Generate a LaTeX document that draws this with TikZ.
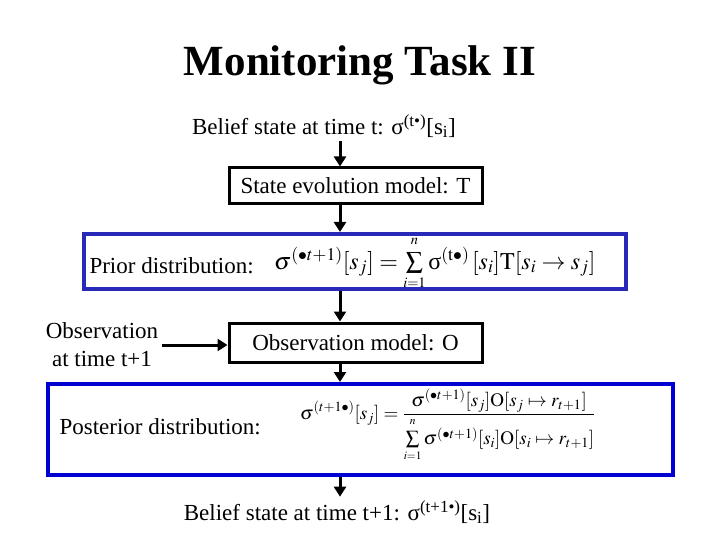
\documentclass[tikz,border=0pt]{standalone}
\usepackage{mathptmx}
\usepackage{fontspec}
\setmainfont{Liberation Serif}
\usetikzlibrary{arrows.meta}

\definecolor{priorblue}{RGB}{40,40,185}
\definecolor{postblue}{RGB}{0,0,210}

\tikzset{
  blackbox/.style={draw=black, line width=3pt, inner sep=0pt},
  bluebox/.style={draw=#1, line width=4pt, inner sep=0pt},
  flow/.style={line width=3pt, -{Triangle[length=10pt,width=12pt]}},
  body/.style={font=\fontsize{23}{28}\selectfont}
}
\newcommand{\sumin}{\sum\limits_{\scriptscriptstyle i=1\rule{0pt}{6pt}}^{\raisebox{3.5pt}{$\scriptscriptstyle n$}}}

\begin{document}
\begin{tikzpicture}[x=1pt,y=-1pt]

  \useasboundingbox (0,0) rectangle (720,540);
  \coordinate (spine) at (340,0);

  % Titol
  \node[font=\bfseries\fontsize{43}{50}\selectfont] (title) at (360,65) {Monitoring Task II};

  % Estat inicial
  \node[body] (beliefT) at (324,126) {Belief state at time t: σ\textsuperscript{(t•)}[s\textsubscript{i}]};

  % Model d'evolucio
  \node[blackbox, body, minimum width=253pt, minimum height=36pt] (evol) at (355.5,186) {State evolution model: T};

  % Distribucio a priori
  \node[bluebox=priorblue, minimum width=542pt, minimum height=55pt] (prior) at (355,261.5) {};
  \node[body, anchor=west] (priorlbl) at (86,266) {Prior distribution:};
  \node[anchor=west, inner sep=0pt, font=\fontsize{24}{28}\selectfont] (priorf) at (274,263)
    {$\sigma^{(\bullet t+1)}[s_j] = \sumin \mbox{σ}^{(\mathrm{t}\bullet)}\,[s_i]\mathrm{T}[s_i \rightarrow s_j]$};

  % Observacio
  \node[body, align=center] (obs) at (102,345) {Observation\\at time t+1};
  \node[blackbox, body, minimum width=253pt, minimum height=39pt] (obsmodel) at (355.5,342.5) {Observation model: O};

  % Distribucio a posteriori
  \node[bluebox=postblue, minimum width=625pt, minimum height=91pt] (post) at (360.5,429.5) {};
  \node[body, anchor=west] (postlbl) at (56,427) {Posterior distribution:};
  \node[anchor=west, inner sep=0pt, font=\fontsize{19}{23}\selectfont] (postf) at (300,425)
    {$\displaystyle\sigma^{(t+1\bullet)}[s_j] = \frac{\sigma^{(\bullet t+1)}[s_j]\mathrm{O}[s_j \mapsto r_{t+1}]}{\sumin \sigma^{(\bullet t+1)}[s_i]\mathrm{O}[s_i \mapsto r_{t+1}]}$};

  % Estat final
  \node[body] (beliefT1) at (337,512) {Belief state at time t+1: σ\textsuperscript{(t+1•)}[s\textsubscript{i}]};

  % Fletxes
  \draw[flow] (beliefT.south -| spine) -- (evol.north -| spine);
  \draw[flow] (evol.south -| spine) -- (prior.north -| spine);
  \draw[flow] (prior.south -| spine) -- (obsmodel.north -| spine);
  \draw[flow] (obs.east) -- (obs.east -| obsmodel.west);
  \draw[flow] (obsmodel.south -| spine) -- (post.north -| spine);
  \draw[flow] (post.south -| spine) -- (beliefT1.north -| spine);

\end{tikzpicture}
\end{document}
